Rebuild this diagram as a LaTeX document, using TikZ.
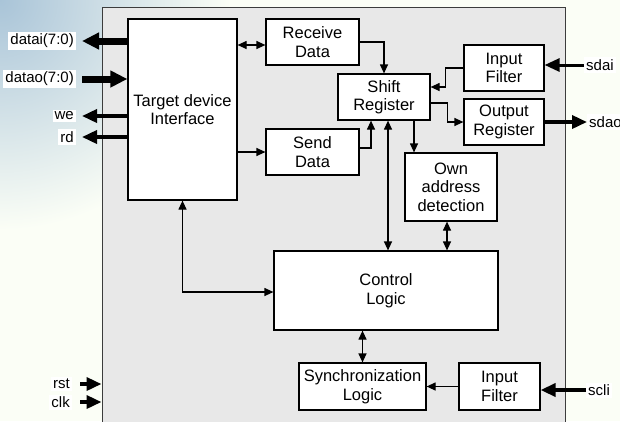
\documentclass[tikz,border=0pt]{standalone}
\usepackage{fontspec}
\setmainfont{Liberation Sans}
\usepackage{tikz}
\usetikzlibrary{shapes,arrows,arrows.meta}
\usetikzlibrary{calc}
\definecolor{paper}{HTML}{FBFEF6}
\definecolor{sky}{HTML}{A9C4D8}
\definecolor{chipgray}{HTML}{E8E8E8}
\definecolor{chipedge}{HTML}{3C3C3C}
\tikzstyle{block} = [rectangle, draw, fill=white, line width=1.2pt, inner sep=0pt,
    align=center, font=\fontsize{16.5}{18.5}\selectfont]
\tikzstyle{pin} = [fill=white, inner sep=2pt, font=\fontsize{15}{17}\selectfont]
\tikzstyle{line} = [draw, line width=1.2pt, -{Triangle[length=9pt,width=8pt]}]
\tikzstyle{dline} = [draw, line width=1.2pt, {Triangle[length=9pt,width=8pt]}-{Triangle[length=9pt,width=8pt]}]
\tikzstyle{bus} = [draw, line width=7pt, -{Triangle[length=17pt,width=16pt]}]
\tikzstyle{wire} = [draw, line width=3.5pt, -{Triangle[length=15pt,width=13pt]}]

\begin{document}
\begin{tikzpicture}[x=1pt, y=-1pt]
    \useasboundingbox (0,0) rectangle (620,421);
    % Background
    \fill[paper] (0,0) rectangle (620,421);
    \begin{scope}
      \clip (0,0) rectangle (620,421);
      \shade[inner color=sky, outer color=paper] (0,0) circle (230);
    \end{scope}
    \node [draw=chipedge, fill=chipgray, line width=1pt, minimum width=463pt,
      minimum height=430pt, inner sep=0pt] (chip) at (333.5,222) {};
    % Place nodes
    \node [block, minimum width=109pt, minimum height=181pt] (tdi) at (182.5,109.5) {Target device\\Interface};
    \node [block, minimum width=93pt, minimum height=46pt] (recv) at (312.5,42) {Receive\\Data};
    \node [block, minimum width=93pt, minimum height=46pt] (send) at (312.5,152) {Send\\Data};
    \node [block, minimum width=92pt, minimum height=46pt] (shift) at (384,97) {Shift\\Register};
    \node [block, minimum width=80pt, minimum height=46pt] (infa) at (504,68) {Input\\Filter};
    \node [block, minimum width=80pt, minimum height=46pt] (outr) at (504,122) {Output\\Register};
    \node [block, minimum width=92pt, minimum height=68pt] (own) at (451,187) {Own\\address\\detection};
    \node [block, minimum width=224pt, minimum height=79pt] (ctrl) at (386,290.5) {Control\\Logic};
    \node [block, minimum width=127pt, minimum height=47pt] (sync) at (362.5,386.5) {Synchronization\\Logic};
    \node [block, minimum width=81pt, minimum height=47pt] (infb) at (499.5,386.5) {Input\\Filter};
    % Pins
    \node [pin, anchor=east] (datai) at (76,41) {datai(7:0)};
    \node [pin, anchor=east] (datao) at (76,79) {datao(7:0)};
    \node [pin, anchor=east] (we) at (76,116) {we};
    \node [pin, anchor=east] (rd) at (76,137) {rd};
    \node [pin, anchor=east] (rst) at (72,384) {rst};
    \node [pin, anchor=east] (clk) at (72,402) {clk};
    \node [pin, anchor=west] (sdai) at (584,65) {sdai};
    \node [pin, anchor=west] (sdao) at (587,122) {sdao};
    \node [pin, anchor=west] (scli) at (586,390) {scli};
    % Draw edges
    \path [bus, shorten >=6pt] (datai.east -| tdi.west) -- (datai.east);
    \path [bus, shorten <=6pt] (datao.east) -- (datao.east -| tdi.west);
    \path [wire, shorten >=6pt] (we.east -| tdi.west) -- (we.east);
    \path [wire, shorten >=6pt] (rd.east -| tdi.west) -- (rd.east);
    \path [wire, shorten <=8pt] (rst.east) -- (rst.east -| chip.west);
    \path [wire, shorten <=8pt] (clk.east) -- (clk.east -| chip.west);
    \path [wire, line width=3pt] (sdai.west) -- (sdai.west -| infa.east);
    \path [wire] (outr.east |- sdao.west) -- (sdao.west);
    \path [wire] (scli.west) -- (scli.west -| infb.east);
    \path [dline] ([yshift=-3pt]recv.west -| tdi.east) -- ([yshift=-3pt]recv.west);
    \path [line] (send.west -| tdi.east) -- (send.west);
    \path [line] (recv.east) -| (shift.north);
    \path [line] ([yshift=4pt]send.east) -| ([xshift=-13pt]shift.south);
    \path [line] (infa.west) -- ++(-18,0) |- ([yshift=10pt]shift.east);
    \path [line] ([yshift=-6pt]shift.east) -- ++(17,0) |- (outr.west);
    \path [line] ([xshift=30pt]shift.south) -- ([xshift=30pt]shift.south |- own.north);
    \path [dline] ([xshift=4pt]shift.south) -- ([xshift=4pt]shift.south |- ctrl.north);
    \path [dline] ([xshift=-4pt]own.south) -- ([xshift=-4pt]own.south |- ctrl.north);
    \path [dline] (tdi.south) |- ([yshift=-1.5pt]ctrl.west);
    \path [dline] (ctrl.south -| sync.north) -- (sync.north);
    \path [line] (infb.west) -- (infb.west -| sync.east);
\end{tikzpicture}
\end{document}
